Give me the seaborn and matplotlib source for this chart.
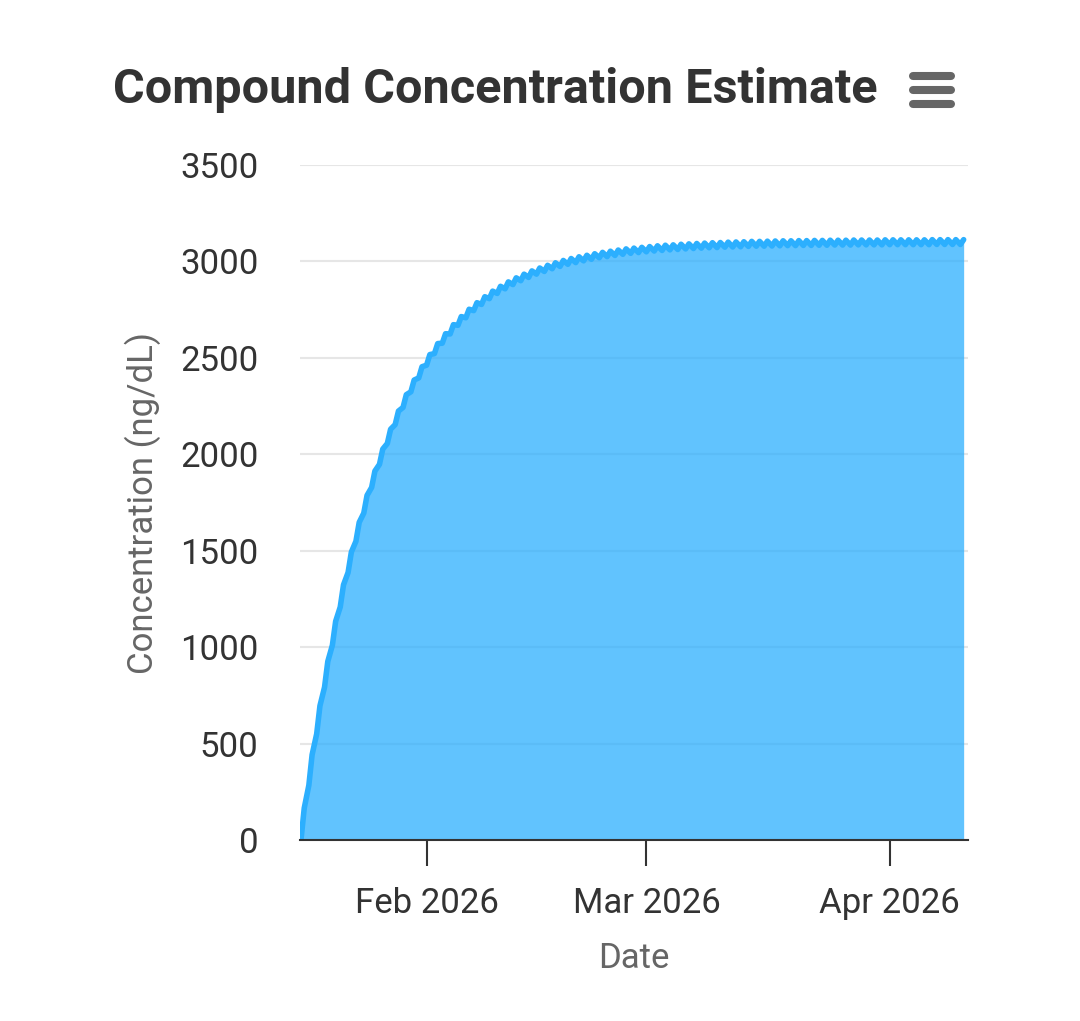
import matplotlib
matplotlib.use("Agg")
import matplotlib.pyplot as plt
import matplotlib.dates as mdates
from matplotlib.lines import Line2D
import numpy as np
import pandas as pd
import seaborn as sns

# daily dose dates, concentration right at dose time and at the peak after it (ng/dL)
first_dose = "2026-01-16"
n_doses = 85
conc_at_dose = [0, 283, 550, 792, 1010, 1208, 1387, 1549, 1695, 1828,
                1948, 2056, 2154, 2243, 2324, 2396, 2462, 2522, 2576, 2624,
                2669, 2708, 2745, 2777, 2807, 2834, 2858, 2880, 2900, 2917,
                2934, 2948, 2962, 2974, 2985, 2994, 3003, 3011, 3019, 3025,
                3031, 3037, 3042, 3046, 3050, 3054, 3057, 3060, 3062, 3065,
                3067, 3069, 3071, 3072, 3074, 3075, 3076, 3078, 3079, 3079,
                3080, 3081, 3082, 3082, 3083, 3083, 3084, 3084, 3085, 3085,
                3085, 3086, 3086, 3086, 3086, 3087, 3087, 3087, 3087, 3087,
                3087, 3088, 3088, 3088, 3088]
conc_peak = [166, 442, 696, 926, 1134, 1323, 1493, 1647, 1787, 1913,
             2027, 2130, 2224, 2309, 2385, 2454, 2517, 2574, 2625, 2672,
             2714, 2752, 2786, 2817, 2846, 2871, 2894, 2915, 2934, 2951,
             2966, 2980, 2993, 3005, 3015, 3024, 3032, 3040, 3047, 3053,
             3059, 3065, 3069, 3073, 3077, 3081, 3084, 3086, 3089, 3091,
             3093, 3095, 3097, 3098, 3100, 3101, 3102, 3104, 3104, 3105,
             3106, 3107, 3107, 3108, 3108, 3109, 3109, 3110, 3110, 3110,
             3111, 3111, 3111, 3111, 3112, 3112, 3112, 3112, 3112, 3112,
             3113, 3113, 3113, 3113, 3113]
peak_delay_hours = 10

y_ticks = [0, 500, 1000, 1500, 2000, 2500, 3000, 3500]
x_ticks = ["2026-02-01", "2026-03-01", "2026-04-01"]

dose_dates = pd.date_range(first_dose, periods=n_doses, freq="D")
peak_dates = dose_dates + pd.Timedelta(hours=peak_delay_hours)
df = pd.DataFrame({
    "time": np.ravel(np.column_stack([dose_dates, peak_dates])),
    "conc": np.ravel(np.column_stack([conc_at_dose, conc_peak])),
})
df["time"] = pd.to_datetime(df["time"])

sns.set_theme(style="whitegrid")
plt.rcParams["font.family"] = ["Roboto", "DejaVu Sans"]

fig = plt.figure(figsize=(10.8, 10.21), dpi=100)
ax = fig.add_axes([300 / 1080, 1 - 840 / 1021, 668 / 1080, 675 / 1021])

ax.fill_between(df["time"], df["conc"], 0, color="#2caffe", alpha=0.75, lw=0, zorder=2)
sns.lineplot(data=df, x="time", y="conc", ax=ax, color="#2caffe", lw=4.0,
             zorder=3, solid_joinstyle="round", solid_capstyle="round")

start = pd.Timestamp(first_dose)
ax.set_xlim(start - pd.Timedelta(hours=3), start + pd.Timedelta(days=84.97))
ax.set_ylim(0, 3500)
ax.set_yticks(y_ticks)
ax.set_yticklabels([str(v) for v in y_ticks])
ax.set_xticks(pd.to_datetime(x_ticks))
ax.xaxis.set_major_formatter(mdates.DateFormatter("%b %Y"))

ax.set_facecolor("white")
ax.grid(axis="y", color="#e6e6e6", lw=1.5, zorder=0)
ax.grid(axis="x", visible=False)
for side in ["left", "top", "right"]:
    ax.spines[side].set_visible(False)
ax.spines["bottom"].set_color("#333333")
ax.spines["bottom"].set_linewidth(1.5)
ax.spines["bottom"].set_zorder(4)

ax.tick_params(axis="x", direction="out", length=18.7, width=1.5, color="#333333",
               pad=15, labelsize=25, labelcolor="#333333", bottom=True)
ax.tick_params(axis="y", length=0, pad=30, labelsize=25, labelcolor="#333333")
ax.set_xlabel("")
ax.set_ylabel("")

fig.text(634 / 1080, 1 - 958 / 1021, "Date", ha="center", va="center",
         fontsize=25, color="#666666")
fig.text(143 / 1080, 1 - 503 / 1021, "Concentration (ng/dL)", ha="center", va="center",
         rotation=90, fontsize=25, color="#666666")
fig.text(495 / 1080, 1 - 90 / 1021, "Compound Concentration Estimate", ha="center",
         va="center", fontsize=35, fontweight="bold", color="#333333")

# menu button
for yy in [76, 90, 104]:
    fig.add_artist(Line2D([913 / 1080, 951 / 1080], [1 - yy / 1021] * 2,
                          transform=fig.transFigure, lw=5.8, color="#666666",
                          solid_capstyle="round"))

fig.savefig("out.png", dpi=100)
